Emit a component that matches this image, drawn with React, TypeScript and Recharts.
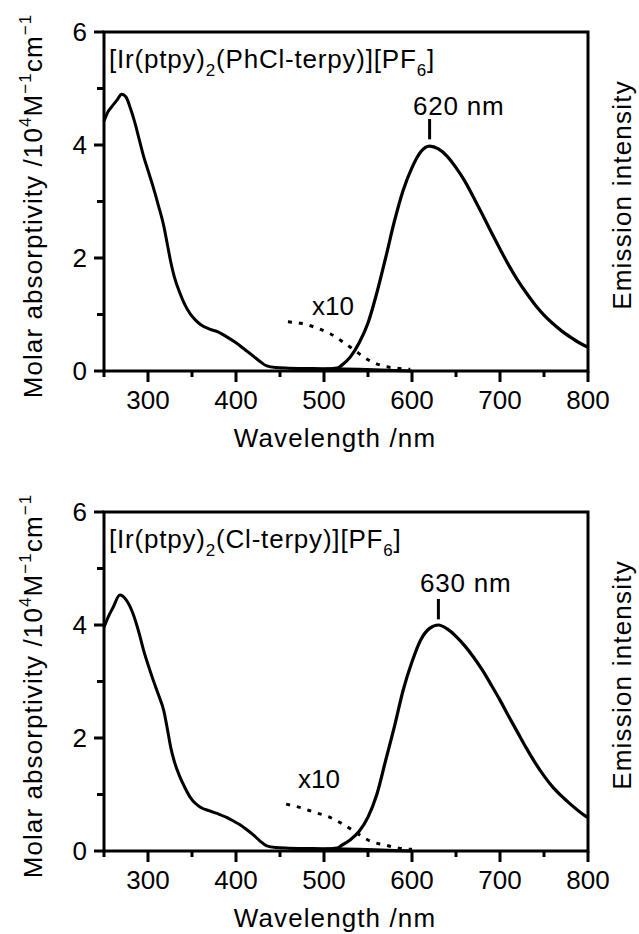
import React from "react";
import { LineChart, Line, XAxis, YAxis, ReferenceLine, ReferenceArea } from "recharts";

const FONT = "'Liberation Sans', Arial, Helvetica, sans-serif";

const xTicks = [250, 300, 350, 400, 450, 500, 550, 600, 650, 700, 750, 800];
const yTicks = [0, 1, 2, 3, 4, 5, 6];

// [Ir(ptpy)2(PhCl-terpy)][PF6]
const abs1Wl = [250, 255, 260, 265, 270, 275, 280, 285, 290, 295, 300, 306, 312, 318, 322, 326, 330, 336, 342, 348, 354, 360, 370, 380, 390, 400, 410, 420, 428, 435, 445, 460, 500, 540, 580, 600];
const abs1Val = [4.42, 4.6, 4.7, 4.8, 4.9, 4.85, 4.65, 4.4, 4.1, 3.8, 3.55, 3.25, 2.92, 2.56, 2.24, 1.92, 1.66, 1.39, 1.17, 1.01, 0.9, 0.82, 0.74, 0.69, 0.6, 0.5, 0.38, 0.26, 0.16, 0.09, 0.06, 0.05, 0.04, 0.03, 0.01, 0];
const x10Wl1 = [459, 475, 492, 507, 522, 537, 550, 567, 583, 598];
const x10Val1 = [0.87, 0.84, 0.76, 0.66, 0.51, 0.34, 0.2, 0.09, 0.05, 0.03];
const em1Wl = [500, 515, 520, 530, 540, 550, 560, 570, 580, 590, 600, 610, 620, 630, 640, 650, 660, 670, 680, 690, 700, 710, 720, 730, 740, 750, 760, 770, 780, 790, 800];
const em1Val = [0.03, 0.05, 0.1, 0.25, 0.5, 0.85, 1.38, 2.0, 2.65, 3.2, 3.6, 3.88, 3.98, 3.93, 3.8, 3.6, 3.36, 3.07, 2.77, 2.46, 2.16, 1.87, 1.61, 1.38, 1.17, 0.99, 0.84, 0.71, 0.6, 0.5, 0.42];

// [Ir(ptpy)2(Cl-terpy)][PF6]
const abs2Wl = [250, 255, 260, 268, 275, 283, 290, 295, 300, 306, 312, 318, 322, 326, 330, 336, 342, 348, 354, 360, 370, 381, 390, 397, 405, 412, 420, 427, 435, 445, 460, 500, 540, 580, 600];
const abs2Val = [3.96, 4.15, 4.3, 4.53, 4.45, 4.2, 3.85, 3.55, 3.3, 3.02, 2.76, 2.48, 2.16, 1.82, 1.58, 1.32, 1.12, 0.95, 0.84, 0.77, 0.71, 0.65, 0.59, 0.53, 0.46, 0.38, 0.28, 0.18, 0.09, 0.06, 0.05, 0.04, 0.03, 0.01, 0];
const x10Wl2 = [457, 475, 490, 503, 521, 537, 552, 571, 585, 600];
const x10Val2 = [0.83, 0.76, 0.68, 0.62, 0.48, 0.32, 0.18, 0.1, 0.05, 0.03];
const em2Wl = [500, 515, 520, 530, 540, 550, 560, 570, 580, 590, 600, 610, 620, 630, 640, 650, 660, 670, 680, 690, 700, 710, 720, 730, 740, 750, 760, 770, 780, 790, 800];
const em2Val = [0.03, 0.05, 0.1, 0.2, 0.35, 0.6, 1.0, 1.6, 2.2, 2.85, 3.35, 3.74, 3.94, 4.0, 3.93, 3.8, 3.63, 3.43, 3.2, 2.94, 2.67, 2.38, 2.1, 1.82, 1.56, 1.33, 1.13, 0.97, 0.83, 0.7, 0.59];

const zip = (wl: number[], val: number[]) => wl.map((w, i) => ({ wl: w, v: val[i] }));

const XTick = (props: any) => {
  const { x, y, payload } = props;
  const major = payload.value % 100 === 0;
  return (
    <g>
      <line x1={x} x2={x} y1={y} y2={y + (major ? 11 : 6)} stroke="#000" strokeWidth={3} />
      {major && (
        <text x={x} y={y + 38} textAnchor="middle" fontSize={26} fontFamily={FONT} fill="#000">
          {payload.value}
        </text>
      )}
    </g>
  );
};

const YTick = (props: any) => {
  const { x, y, payload } = props;
  const major = payload.value % 2 === 0;
  return (
    <g>
      <line x1={x - (major ? 10 : 7)} x2={x} y1={y} y2={y} stroke="#000" strokeWidth={3} />
      {major && (
        <text x={x - 17} y={y + 9} textAnchor="end" fontSize={26} fontFamily={FONT} fill="#000">
          {payload.value}
        </text>
      )}
    </g>
  );
};

interface PanelProps {
  height: number
  abs: { wl: number; v: number }[]
  x10: { wl: number; v: number }[]
  em: { wl: number; v: number }[]
  ligand: string
  peak: number
  peakX: number
  peakY: number
  x10X: number
  x10Y: number
}

function Panel({ height, abs, x10, em, ligand, peak, peakX, peakY, x10X, x10Y }: PanelProps) {
  return (
    <LineChart width={639} height={height} margin={{ top: 32, right: 51, bottom: 0, left: 0 }}>
      <XAxis
        dataKey="wl"
        type="number"
        domain={[250, 800]}
        ticks={xTicks}
        interval={0}
        height={height - 371}
        axisLine={false}
        tickLine={false}
        tickSize={0}
        tickMargin={0}
        tick={<XTick />}
      />
      <YAxis
        type="number"
        domain={[0, 6]}
        ticks={yTicks}
        interval={0}
        width={104}
        axisLine={false}
        tickLine={false}
        tickSize={0}
        tickMargin={0}
        tick={<YTick />}
      />
      <Line data={abs} dataKey="v" type="monotone" stroke="#000" strokeWidth={3} dot={false} isAnimationActive={false} />
      <Line data={x10} dataKey="v" type="monotone" stroke="#000" strokeWidth={3} strokeDasharray="4 7" dot={false} isAnimationActive={false} />
      <Line data={em} dataKey="v" type="monotone" stroke="#000" strokeWidth={3.2} dot={false} isAnimationActive={false} />
      <ReferenceArea x1={250} x2={800} y1={0} y2={6} ifOverflow="visible" fill="none" stroke="#000" strokeWidth={3} fillOpacity={0} />
      <ReferenceLine segment={[{ x: peak, y: 4.1 }, { x: peak, y: 4.46 }]} stroke="#000" strokeWidth={3} />
      <text x={109} y={68} fontSize={26} fontFamily={FONT} letterSpacing={0.8} fill="#000">
        [Ir(ptpy)<tspan fontSize={17} dy={8}>2</tspan>
        <tspan dy={-8}>({ligand}-terpy)][PF</tspan>
        <tspan fontSize={17} dy={8}>6</tspan>
        <tspan dy={-8}>]</tspan>
      </text>
      <text x={peakX} y={peakY} fontSize={26} fontFamily={FONT} letterSpacing={0.8} fill="#000">
        {peak} nm
      </text>
      <text x={x10X} y={x10Y} fontSize={26} fontFamily={FONT} fill="#000">
        x10
      </text>
      <text
        x={42}
        y={206}
        transform="rotate(-90 42 206)"
        textAnchor="middle"
        fontSize={26}
        fontFamily={FONT}
        letterSpacing={1.1}
        fill="#000"
      >
        Molar absorptivity /10<tspan fontSize={17} dy={-11}>4</tspan>
        <tspan dy={11}>M</tspan>
        <tspan fontSize={17} dy={-11}>−1</tspan>
        <tspan dy={11}>cm</tspan>
        <tspan fontSize={17} dy={-11}>−1</tspan>
      </text>
      <text
        x={631}
        y={195}
        transform="rotate(-90 631 195)"
        textAnchor="middle"
        fontSize={26}
        fontFamily={FONT}
        letterSpacing={1.2}
        fill="#000"
      >
        Emission intensity
      </text>
      <text x={335} y={447} textAnchor="middle" fontSize={26} fontFamily={FONT} letterSpacing={1.1} fill="#000">
        Wavelength /nm
      </text>
    </LineChart>
  );
}

export default function App() {
  return (
    <div style={{ position: "absolute", left: 0, top: 0, width: 639, height: 934, background: "#fff" }}>
      <Panel
        height={480}
        abs={zip(abs1Wl, abs1Val)}
        x10={zip(x10Wl1, x10Val1)}
        em={zip(em1Wl, em1Val)}
        ligand="PhCl"
        peak={620}
        peakX={413}
        peakY={115}
        x10X={312}
        x10Y={315}
      />
      <Panel
        height={454}
        abs={zip(abs2Wl, abs2Val)}
        x10={zip(x10Wl2, x10Val2)}
        em={zip(em2Wl, em2Val)}
        ligand="Cl"
        peak={630}
        peakX={420}
        peakY={112}
        x10X={298}
        x10Y={308}
      />
    </div>
  );
}
